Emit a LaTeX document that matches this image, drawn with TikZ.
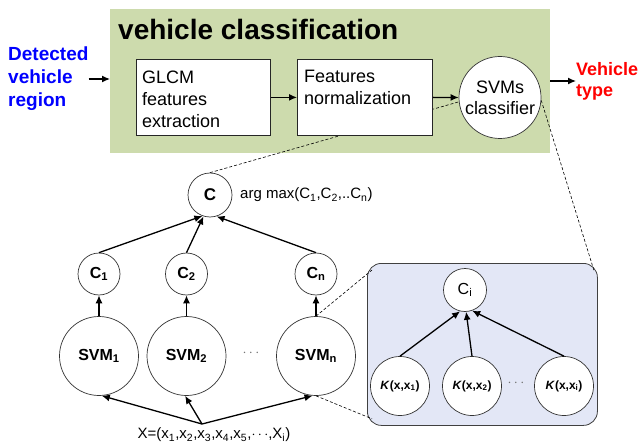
\documentclass[tikz,border=0pt]{standalone}
\usepackage{fontspec}
\setmainfont{Liberation Sans}
\usepackage{xcolor}
\usepackage{tikz}
\usetikzlibrary{arrows.meta,positioning,calc}

\definecolor{panelgreen}{RGB}{205,219,173}
\definecolor{kernelblue}{RGB}{227,231,246}
\newcommand{\fs}[2]{\fontsize{#1}{#2}\selectfont}

\begin{document}
\begin{tikzpicture}[x=1pt,y=-1pt,
    unit/.style={circle,draw=black!80,fill=white,line width=0.7pt,inner sep=0pt},
    procbox/.style={draw=black!85,fill=white,line width=0.8pt,minimum width=134pt,minimum height=76pt,inner sep=0pt,anchor=north west},
    boxtext/.style={anchor=north west,align=left,inner sep=0pt,font=\fs{18}{22}},
    flow/.style={line width=1.3pt,-{Latex[length=8pt,width=7pt]}},
    zoomline/.style={line width=0.6pt,dash pattern=on 3pt off 2pt}]
  \useasboundingbox (0,0) rectangle (644,446);

  % pipeline
  \node[fill=panelgreen,minimum width=440pt,minimum height=144pt,inner sep=0pt,anchor=north west] (panel) at (110,9) {};
  \node[anchor=base west,inner sep=0pt,font=\bfseries\fs{28}{30}] (title) at (118,40) {vehicle classification};
  \node[unit,minimum size=44pt,font=\bfseries\fs{17}{20}] (c) at (210,195) {C};
  \node[unit,minimum size=82pt,align=center,font=\fs{18}{21}] (svms) at (500,97.5) {SVMs\\classifier};
  \draw[zoomline] (c.north) -- (svms.186);
  \node[procbox] (glcm) at (136,59) {};
  \node[procbox,minimum width=135pt] (feat) at (297,59) {};
  \node[boxtext] (glcmtext) at ([shift={(6,12)}]glcm.north west) {GLCM\\features\\extraction};
  \node[boxtext] (feattext) at ([shift={(7,11)}]feat.north west) {Features\\normalization};
  \draw[flow] (glcm) -- (feat);
  \draw[flow] (feat.east) -- (svms.west);

  \node[anchor=west,inner sep=0pt,align=left,text=blue,font=\bfseries\fs{19}{23}] (detect) at (8,79) {Detected\\vehicle\\region};
  \draw[flow] (detect.east) -- (detect.east -| panel.west);
  \node[anchor=west,inner sep=0pt,align=left,text=red,font=\bfseries\fs{18}{21}] (vtype) at (576,81) {Vehicle\\type};
  \draw[flow] (panel.east |- vtype.west) -- (vtype.west);

  % one-vs-rest layer
  \node[anchor=west,inner sep=0pt,font=\fs{15}{18}] (argmax) at (240,195) {arg max(C\textsubscript{1},C\textsubscript{2},..C\textsubscript{n})};
  \foreach \name/\xx/\tip in {1/99/250, 2/186.5/253, n/316/287}{
    \node[unit,minimum size=42pt,font=\bfseries\fs{16}{18}] (c\name) at (\xx,274) {C\textsubscript{\name}};
    \node[unit,minimum size=79pt,font=\bfseries\fs{16}{18}] (svm\name) at (\xx,356) {SVM\textsubscript{\name}};
    \draw[flow] (svm\name) -- (c\name);
    \draw[flow] (c\name.north) -- (c.\tip);
  }
  \node[text=black!55,font=\fs{14}{16}] (svmdots) at (251,353) {$\cdots$};

  \coordinate (xin) at (202,424);
  \node[inner sep=0pt,font=\fs{15}{18}] (xvec) at (214,435) {X=(x\textsubscript{1},x\textsubscript{2},x\textsubscript{3},x\textsubscript{4},x\textsubscript{5},$\cdots$,X\textsubscript{i})};
  \draw[flow] (xin) -- (svm1.-86);
  \draw[flow] (xin) -- (svm2.-92);
  \draw[flow] (xin) -- (svmn.-95);

  % kernel detail
  \node[draw=black!75,fill=kernelblue,rounded corners=14pt,line width=0.8pt,minimum width=230pt,minimum height=162pt,inner sep=0pt,anchor=north west] (kbox) at (367,263) {};
  \node[unit,minimum size=43pt,font=\fs{16}{18}] (ci) at (465,290) {C\textsubscript{i}};
  \foreach \name/\xx/\tip in {1/400/257, 2/472/273, i/564/289}{
    \node[unit,minimum size=59pt,font=\bfseries\fs{12}{14}] (k\name) at (\xx,386) {\textit{K}(x,x\textsubscript{\name})};
    \draw[flow] (k\name.north) -- (ci.\tip);
  }
  \node[text=black!55,font=\fs{14}{16}] (kdots) at (516,383) {$\cdots$};

  \draw[zoomline] (svms.-4) -- ([shift={(-4,7)}]kbox.north east);
  \draw[zoomline] (svmn.north) -- ([shift={(5,7)}]kbox.north west);
  \draw[zoomline] (svmn.south) -- ([shift={(5,-7)}]kbox.south west);
\end{tikzpicture}
\end{document}
